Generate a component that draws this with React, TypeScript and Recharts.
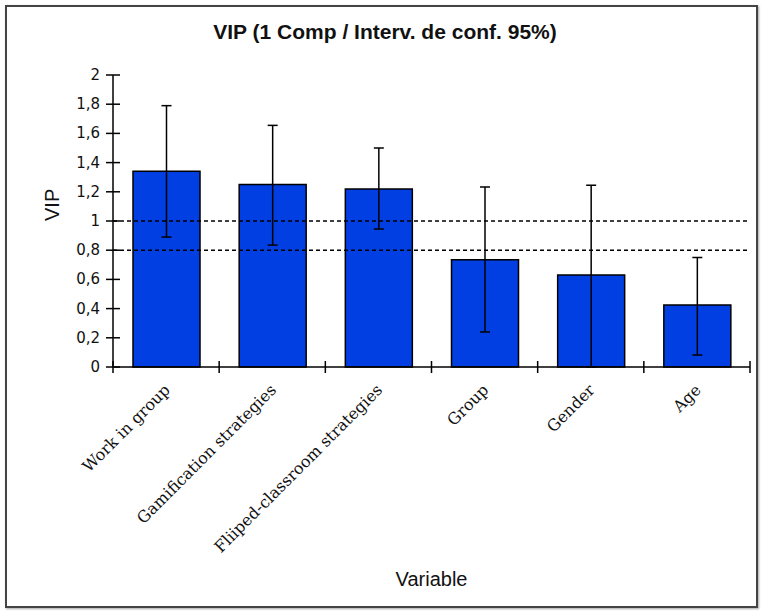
import { Bar, BarChart, ErrorBar, ReferenceLine, XAxis, YAxis } from "recharts";

const categories = [
  "Work in group",
  "Gamification strategies",
  "Fliiped-classroom strategies",
  "Group",
  "Gender",
  "Age",
];
const vip = [1.34, 1.25, 1.22, 0.735, 0.63, 0.425];
const ciLow = [0.89, 0.835, 0.945, 0.24, 0, 0.082];
const ciHigh = [1.79, 1.655, 1.5, 1.233, 1.245, 0.75];
const yTicks = [0, 0.2, 0.4, 0.6, 0.8, 1, 1.2, 1.4, 1.6, 1.8, 2];
const thresholds = [1, 0.8];

const data = categories.map((name, i) => ({
  name,
  vip: vip[i],
  err: [vip[i] - ciLow[i], ciHigh[i] - vip[i]],
}));

const PLOT_LEFT = 113;
const PLOT_RIGHT = 750;
const BAND = (PLOT_RIGHT - PLOT_LEFT) / categories.length;
const fmt = (v: number) => String(v).replace(".", ",");

function YTick(props: any) {
  const { x, y, payload } = props;
  return (
    <g>
      <line x1={x + 3} x2={x + 17} y1={y} y2={y} stroke="#000" strokeWidth={1.5} />
      <text x={x - 3} y={y} dy={5} textAnchor="end" fontSize={15} fontFamily="DejaVu Sans" fill="#111">
        {fmt(payload.value)}
      </text>
    </g>
  );
}

function XTick(props: any) {
  const { x, y, payload, index } = props;
  const left = x - BAND / 2;
  const right = x + BAND / 2;
  const tx = x + 5;
  const ty = y + 16;
  return (
    <g>
      <line x1={left} x2={left} y1={y - 14} y2={y - 2} stroke="#000" strokeWidth={1.5} />
      {index === categories.length - 1 ? (
        <line x1={right} x2={right} y1={y - 14} y2={y - 2} stroke="#000" strokeWidth={1.5} />
      ) : null}
      <text
        x={tx}
        y={ty}
        transform={`rotate(-45, ${tx}, ${ty})`}
        textAnchor="end"
        fontSize={16}
        fontFamily="DejaVu Serif"
        fill="#111"
      >
        {payload.value}
      </text>
    </g>
  );
}

export default function App() {
  return (
    <div style={{ position: "absolute", left: 0, top: 0, width: 765, height: 615, background: "#fff" }}>
      <div
        style={{
          position: "absolute",
          left: 5,
          top: 5,
          width: 749,
          height: 599,
          border: "2px solid #444",
          boxShadow: "1px 1px 2px rgba(0,0,0,0.35)",
        }}
      />
      <div
        style={{
          position: "absolute",
          left: 0,
          top: 20,
          width: 770,
          textAlign: "center",
          fontFamily: "Liberation Sans",
          fontWeight: "bold",
          fontSize: 21,
          color: "#111",
        }}
      >
        VIP (1 Comp / Interv. de conf. 95%)
      </div>
      <div style={{ position: "absolute", left: 0, top: 0 }}>
        <BarChart
          width={765}
          height={615}
          data={data}
          margin={{ top: 75, right: 765 - PLOT_RIGHT, left: 0, bottom: 0 }}
          barSize={67}
        >
          <XAxis
            dataKey="name"
            height={248}
            interval={0}
            axisLine={{ stroke: "#000", strokeWidth: 1.5 }}
            tickLine={false}
            tickSize={6}
            tickMargin={2}
            tick={<XTick />}
            label={{
              value: "Variable",
              position: "insideBottom",
              offset: 29,
              fontSize: 20,
              fontFamily: "Liberation Sans",
              fill: "#111",
            }}
          />
          <XAxis
            xAxisId="top"
            dataKey="name"
            orientation="top"
            height={0}
            tick={false}
            tickLine={false}
            axisLine={{ stroke: "#aaa", strokeWidth: 1 }}
          />
          <YAxis
            width={PLOT_LEFT}
            domain={[0, 2]}
            ticks={yTicks}
            interval={0}
            axisLine={{ stroke: "#000", strokeWidth: 1.5 }}
            tickLine={false}
            tickSize={7}
            tickMargin={3}
            tick={<YTick />}
            label={{
              value: "VIP",
              angle: -90,
              position: "insideLeft",
              offset: 52,
              fontSize: 20,
              fontFamily: "Liberation Sans",
              fill: "#111",
            }}
          />
          <YAxis
            yAxisId="right"
            orientation="right"
            width={0}
            domain={[0, 2]}
            tick={false}
            tickLine={false}
            axisLine={{ stroke: "#aaa", strokeWidth: 1 }}
          />
          <Bar dataKey="vip" fill="#023fe3" stroke="#000" strokeWidth={1.5} isAnimationActive={false}>
            <ErrorBar dataKey="err" width={5} stroke="#000" strokeWidth={1.5} direction="y" />
          </Bar>
          {thresholds.map((t) => (
            <ReferenceLine key={t} y={t} stroke="#000" strokeWidth={1.5} strokeDasharray="4 3" />
          ))}
        </BarChart>
      </div>
    </div>
  );
}
